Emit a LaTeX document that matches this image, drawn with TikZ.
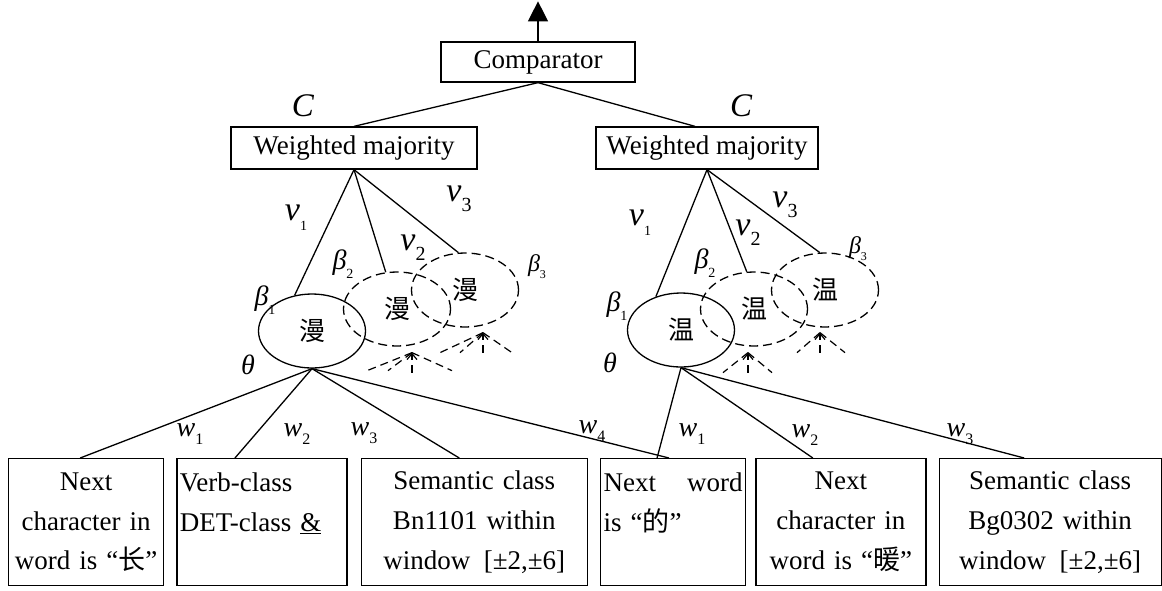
\documentclass[tikz,border=0pt]{standalone}
\usepackage{fontspec}
\setmainfont{Liberation Serif}
\newfontfamily\cjk{Noto Sans CJK SC}
\usepackage{tikz}
\usetikzlibrary{shapes,arrows.meta,positioning}
\tikzstyle{rbox} = [draw, line width=1.3pt, font=\fontsize{27}{40}\selectfont, inner sep=0pt, minimum height=40pt]
\tikzstyle{feat} = [draw, line width=1.3pt, font=\fontsize{27}{40}\selectfont, align=center, minimum height=127pt, inner xsep=3pt, inner ysep=0pt]
\tikzstyle{clf} = [ellipse, draw, line width=1.3pt, minimum width=107pt, minimum height=74pt, inner sep=0pt, font=\cjk\fontsize{26}{26}\selectfont]
\tikzstyle{clfd} = [clf, dash pattern=on 9pt off 5pt]
\tikzstyle{textonly} = [draw=none, fill=none, inner sep=0pt, font=\itshape\fontsize{28}{28}\selectfont]
\tikzstyle{vlab} = [textonly, font=\itshape\fontsize{34}{34}\selectfont]
\tikzstyle{blab} = [textonly, font=\itshape\fontsize{28}{28}\selectfont]
\tikzstyle{tedge}  = [draw, line width=1.3pt]
\tikzstyle{dedge}  = [draw, line width=1.2pt, dash pattern=on 8pt off 5pt]
\newcommand{\lab}[3]{#1\raisebox{-0.3em}{\fontsize{#3}{#3}\selectfont\upshape #2}}

\begin{document}
\begin{tikzpicture}[x=1pt,y=-1pt]
\useasboundingbox (0,0) rectangle (1162,590);

% combiners =============================
\node[rbox, minimum width=194pt] (comp) at (538,62) {Comparator};
\coordinate[above=40pt of comp.north] (out);
\node[rbox, minimum width=246pt, minimum height=42pt] (wmL) at (354,148) {Weighted majority};
\node[rbox, minimum width=222pt, minimum height=42pt] (wmR) at (707,148) {Weighted majority};

% classifiers
\node[clf] (aL) at (312,331) {漫};
\node[clfd] (bL) at (397,309) {漫};
\node[clfd] (cL) at (465,290) {漫};
\node[clf] (aR) at (681,330) {温};
\node[clfd] (bR) at (754,309) {温};
\node[clfd] (cR) at (825,290) {温};

% features
\node[feat, text width=149pt, anchor=north west] (f1) at (8,458) {Next\\character in\\word is “{\cjk 长}”};
\node[feat, text width=164pt, align=left, right=12pt of f1] (f2) {Verb-class\\DET-class \underline{\&}\\\mbox{}};
\node[feat, text width=220pt, right=13pt of f2] (f3) {Semantic class\\Bn1101 within\\window\hspace{0.5em}[±2,±6]};
\node[feat, text width=139pt, align=left, right=12pt of f3] (f4) {Next\hfill word\\is “{\cjk 的}”\\\mbox{}};
\node[feat, text width=164pt, right=9pt of f4] (f5) {Next\\character in\\word is “{\cjk 暖}”};
\node[feat, text width=216pt, right=12pt of f5] (f6) {Semantic class\\Bg0302 within\\window\hspace{0.5em}[±2,±6]};

% labels
\node[textonly, font=\itshape\fontsize{33}{33}\selectfont] (lC) at (303,106) {C};
\node[textonly, font=\itshape\fontsize{33}{33}\selectfont] (rC) at (741,106) {C};
\node[vlab] (lv1) at (296,218) {\lab{v}{1}{14}};
\node[vlab] (lv2) at (413,248) {\lab{v}{2}{20}};
\node[vlab] (lv3) at (459,199) {\lab{v}{3}{20}};
\node[blab] (lb1) at (265,300) {\lab{β}{1}{14}};
\node[blab] (lb2) at (343,264) {\lab{β}{2}{14}};
\node[blab, font=\itshape\fontsize{24}{24}\selectfont] (lb3) at (537,267) {\lab{β}{3}{12}};
\node[blab] (lth) at (248,365) {θ};
\node[vlab] (rv1) at (640,223) {\lab{v}{1}{14}};
\node[vlab] (rv2) at (748,233) {\lab{v}{2}{20}};
\node[vlab] (rv3) at (785,205) {\lab{v}{3}{20}};
\node[blab] (rb1) at (617,306) {\lab{β}{1}{14}};
\node[blab] (rb2) at (705,263) {\lab{β}{2}{14}};
\node[blab, font=\itshape\fontsize{24}{24}\selectfont] (rb3) at (858,249) {\lab{β}{3}{12}};
\node[blab] (rth) at (610,363) {θ};
\node[textonly] (lw1) at (190,434) {\lab{w}{1}{16}};
\node[textonly] (lw2) at (297,434) {\lab{w}{2}{16}};
\node[textonly] (lw3) at (364,433) {\lab{w}{3}{16}};
\node[textonly] (lw4) at (592,431) {\lab{w}{4}{16}};
\node[textonly] (rw1) at (692,434) {\lab{w}{1}{16}};
\node[textonly] (rw2) at (805,435) {\lab{w}{2}{16}};
\node[textonly] (rw3) at (960,434) {\lab{w}{3}{16}};

%edges
\path[tedge, -{Triangle[length=20pt,width=20pt]}] (comp.north) -- (out);
\path[tedge] (comp.south) -- (wmL.north);
\path[tedge] (comp.south) -- ([xshift=-12pt]wmR.north);

\path[tedge] (wmL.south) -- (aL.116);
\path[tedge] (wmL.south) -- (bL.107);
\path[tedge] (wmL.south) -- (cL.100);
\path[tedge] (wmR.south) -- (aR.127);
\path[tedge] (wmR.south) -- (bR.101);
\path[tedge] (wmR.south) -- (cR.98);

\path[tedge] (aL.south) -- ([xshift=-6pt]f1.north);
\path[tedge] (aL.south) -- ([xshift=-27pt]f2.north);
\path[tedge] (aL.south) -- ([xshift=-15pt]f3.north);
\path[tedge] (aL.south) -- ([xshift=-4pt]f4.north);
\path[tedge] (aR.south) -- ([xshift=-16pt]f4.north);
\path[tedge] (aR.south) -- ([xshift=-28pt]f5.north);
\path[tedge] (aR.south) -- ([xshift=-26pt]f6.north);

%dashed inputs
\coordinate (tbL) at ([xshift=15pt,yshift=-6pt]bL.south);
\coordinate (tcL) at ([xshift=18pt,yshift=-5pt]cL.south);
\coordinate (tbR) at ([xshift=-6pt,yshift=-6pt]bR.south);
\coordinate (tcR) at ([xshift=-5pt,yshift=-5pt]cR.south);
\path[dedge, -{Straight Barb[length=6pt,width=10pt]}] ([yshift=-20pt]tbL) -- (tbL);
\path[dedge] (tbL) -- ++(-45,18);
\path[dedge] (tbL) -- ++(-24,18);
\path[dedge] (tbL) -- ++(40,18);
\path[dedge, -{Straight Barb[length=6pt,width=10pt]}] ([yshift=-20pt]tcL) -- (tcL);
\path[dedge] (tcL) -- ++(-43,20);
\path[dedge] (tcL) -- ++(-23,20);
\path[dedge] (tcL) -- ++(29,20);
\path[dedge, -{Straight Barb[length=6pt,width=10pt]}] ([yshift=-20pt]tbR) -- (tbR);
\path[dedge] (tbR) -- ++(-25,20);
\path[dedge] (tbR) -- ++(24,20);
\path[dedge, -{Straight Barb[length=6pt,width=10pt]}] ([yshift=-20pt]tcR) -- (tcR);
\path[dedge] (tcR) -- ++(-23,20);
\path[dedge] (tcR) -- ++(25,20);

\end{tikzpicture}
\end{document}
